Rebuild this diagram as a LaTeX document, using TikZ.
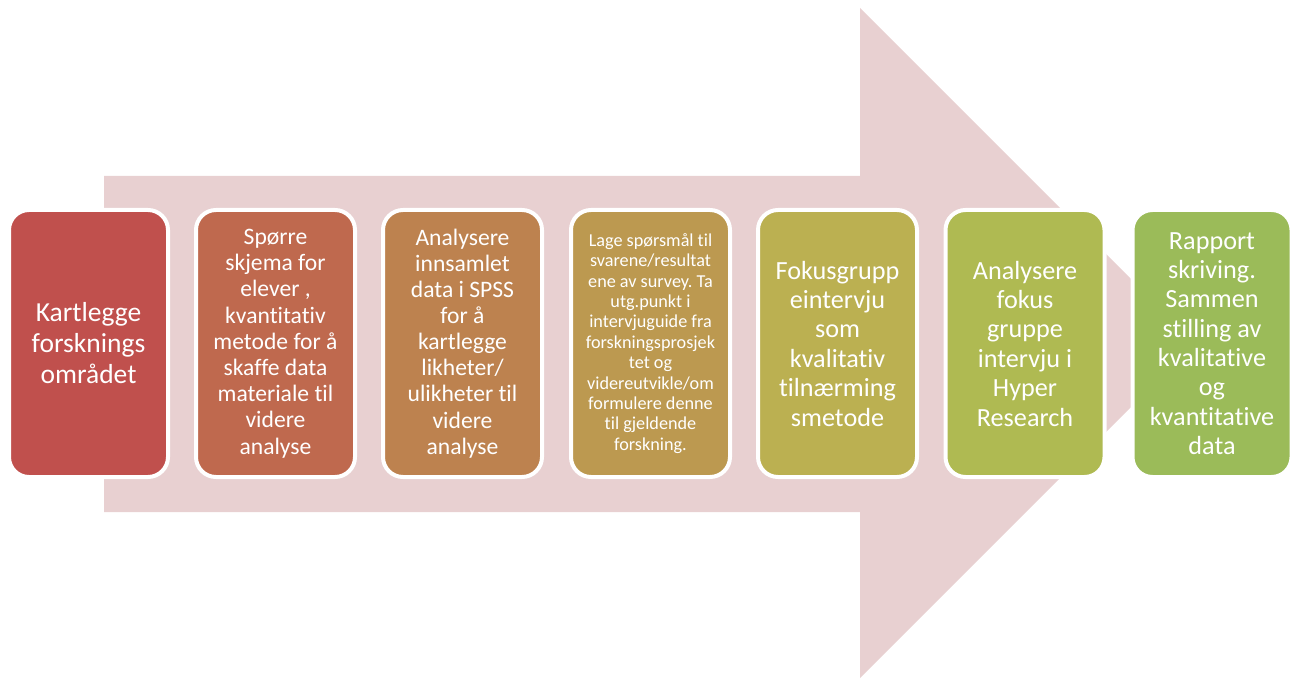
\documentclass[tikz,border=0pt]{standalone}
\usepackage{fontspec}
\setmainfont{Carlito}[Ligatures=NoCommon]
\frenchspacing

\definecolor{arrowpink}{RGB}{232,208,209}
\definecolor{stepA}{RGB}{192,80,77}
\definecolor{stepB}{RGB}{191,105,78}
\definecolor{stepC}{RGB}{189,130,79}
\definecolor{stepD}{RGB}{188,153,80}
\definecolor{stepE}{RGB}{187,176,81}
\definecolor{stepF}{RGB}{175,186,82}
\definecolor{stepG}{RGB}{155,187,89}

\tikzset{
  stepbox/.style={draw=white, line width=4pt, rounded corners=20pt,
    minimum width=159pt, minimum height=267pt, align=center,
    text=white, inner sep=0pt}
}

\begin{document}
\begin{tikzpicture}[x=1pt, y=-1pt]

\useasboundingbox (0,0) rectangle (1296,679);

% Define arrow corners
\coordinate (S1) at (104,176);
\coordinate (S2) at (860,176);
\coordinate (H1) at (860,8);
\coordinate (T) at (1195,343);
\coordinate (H2) at (860,678);
\coordinate (S3) at (860,512);
\coordinate (S4) at (104,512);

% Draw the big arrow
\fill[arrowpink] (S1) -- (S2) -- (H1) -- (T) -- (H2) -- (S3) -- (S4) -- cycle;

% Step boxes
\node[stepbox, fill=stepA, font=\fontsize{27.5}{31}\selectfont] (kartlegge) at (88.5,343.5)
  {Kartlegge\\forsknings\\området};

\node[stepbox, fill=stepB, font=\fontsize{23.6}{26.2}\selectfont] (skjema) at (275.5,343.5)
  {Spørre\\skjema for\\elever ,\\kvantitativ\\metode for å\\skaffe data\\materiale til\\videre\\analyse};

\node[stepbox, fill=stepC, font=\fontsize{23.6}{26.1}\selectfont] (spss) at (462.5,343.5)
  {Analysere\\innsamlet\\data i SPSS\\for å\\kartlegge\\likheter/\\ulikheter til\\videre\\analyse};

\node[stepbox, fill=stepD, font=\fontsize{18.2}{20.4}\selectfont] (guide) at (650.5,343.5)
  {Lage spørsmål til\\svarene/resultat\\ene av survey. Ta\\utg.punkt i\\intervjuguide fra\\forskningsprosjek\\tet og\\videreutvikle/om\\formulere denne\\til gjeldende\\forskning.};

\node[stepbox, fill=stepE, font=\fontsize{26.2}{29.4}\selectfont] (fokus) at (837.5,343.5)
  {Fokusgrupp\\eintervju\\som\\kvalitativ\\tilnærming\\smetode};

\node[stepbox, fill=stepF, font=\fontsize{26.2}{29.4}\selectfont] (hyper) at (1025,343.5)
  {Analysere\\fokus\\gruppe\\intervju i\\Hyper\\Research};

\node[stepbox, fill=stepG, font=\fontsize{26.2}{29.3}\selectfont] (rapport) at (1212,343.5)
  {Rapport\\skriving.\\Sammen\\stilling av\\kvalitative\\og\\kvantitative\\data};

\end{tikzpicture}
\end{document}
